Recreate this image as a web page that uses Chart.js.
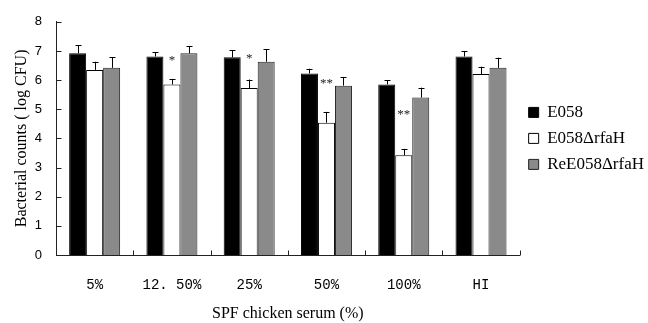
<!DOCTYPE html>
<html>
<head>
<meta charset="utf-8">
<script src="https://cdn.jsdelivr.net/npm/chart.js@4/dist/chart.umd.min.js"></script>
<style>
  html, body { margin: 0; padding: 0; background: #fff; }
  #wrap { width: 648px; height: 323px; }
</style>
</head>
<body>
<div id="wrap"><canvas id="chart"></canvas></div>
<script>
// serum concentrations on the x axis
var categories = ['5%', '12. 50%', '25%', '50%', '100%', 'HI'];

// mean log CFU and upper error (SD) per strain
var e058       = [6.92, 6.81, 6.78, 6.23, 5.85, 6.81];
var e058Err    = [0.27, 0.14, 0.25, 0.16, 0.14, 0.19];
var mutant     = [6.35, 5.85, 5.73, 4.54, 3.42, 6.21];
var mutantErr  = [0.28, 0.19, 0.29, 0.37, 0.22, 0.25];
var rescue     = [6.42, 6.92, 6.63, 5.81, 5.40, 6.42];
var rescueErr  = [0.36, 0.24, 0.43, 0.30, 0.34, 0.35];

// significance marks over the mutant bars, and the level they sit at
var sigMarks = ['', '*', '*', '**', '**', ''];
var sigLevel = [null, 6.55, 6.62, 5.78, 4.72, null];

var yTicks = [0, 1, 2, 3, 4, 5, 6, 7, 8];

var serif = "'Liberation Serif', 'Times New Roman', serif";

// error bars (upward only), inward tick marks and the star labels
var extras = {
  id: 'extras',
  afterDatasetsDraw: function(chart) {
    var ctx = chart.ctx;
    var y = chart.scales.y;
    var errs = [e058Err, mutantErr, rescueErr];
    ctx.save();
    ctx.strokeStyle = '#000';
    ctx.lineWidth = 1;
    chart.data.datasets.forEach(function(ds, di) {
      chart.getDatasetMeta(di).data.forEach(function(bar, i) {
        var x = Math.round(bar.x) + 0.5;
        var yTop = y.getPixelForValue(ds.data[i] + errs[di][i]);
        ctx.beginPath();
        ctx.moveTo(x, bar.y);
        ctx.lineTo(x, yTop);
        ctx.moveTo(x - 3, Math.round(yTop) + 0.5);
        ctx.lineTo(x + 3, Math.round(yTop) + 0.5);
        ctx.stroke();
      });
    });

    // stars
    var meta = chart.getDatasetMeta(1);
    ctx.fillStyle = '#222';
    ctx.font = "13px " + serif;
    ctx.textAlign = 'center';
    ctx.textBaseline = 'middle';
    sigMarks.forEach(function(m, i) {
      if (!m) return;
      ctx.fillText(m, meta.data[i].x, y.getPixelForValue(sigLevel[i]) - 3);
    });
    ctx.restore();
  },
  afterDraw: function(chart) {
    var ctx = chart.ctx;
    var x = chart.scales.x, y = chart.scales.y;
    var left = Math.round(chart.chartArea.left) + 0.5;
    var bottom = Math.round(chart.chartArea.bottom) + 0.5;
    ctx.save();
    ctx.strokeStyle = '#222';
    ctx.lineWidth = 1;
    ctx.beginPath();
    yTicks.forEach(function(v) {
      var py = Math.round(y.getPixelForValue(v)) + 0.5;
      ctx.moveTo(left, py);
      ctx.lineTo(left + 5, py);
    });
    for (var i = 0; i <= categories.length; i++) {
      var px = Math.round(x.getPixelForValue(i - 0.5)) + 0.5;
      ctx.moveTo(px, bottom);
      ctx.lineTo(px, bottom - 5);
    }
    ctx.stroke();
    ctx.restore();
  }
};

new Chart(document.getElementById('chart'), {
  type: 'bar',
  data: {
    labels: categories,
    datasets: [{
      label: 'E058',
      data: e058,
      backgroundColor: '#000000',
      borderColor: '#000000',
      borderWidth: 1
    }, {
      label: 'E058\u0394rfaH',
      data: mutant,
      backgroundColor: '#ffffff',
      borderColor: '#000000',
      borderWidth: 1
    }, {
      label: 'ReE058\u0394rfaH',
      data: rescue,
      backgroundColor: '#8a8a8a',
      borderColor: '#222222',
      borderWidth: 1
    }]
  },
  plugins: [extras],
  options: {
    responsive: true,
    maintainAspectRatio: false,
    animation: false,
    devicePixelRatio: 1,
    // top: the y labels add their half height on top of this
    layout: { padding: { top: 9, left: 0, right: -6, bottom: 0 } },
    datasets: {
      bar: { categoryPercentage: 0.66, barPercentage: 1.0, borderSkipped: 'start' }
    },
    plugins: {
      tooltip: { enabled: false },
      legend: {
        position: 'right',
        fullSize: false,
        labels: {
          color: '#000',
          font: { family: serif, size: 17 },
          boxWidth: 10,
          boxHeight: 10,
          padding: 9
        }
      }
    },
    scales: {
      x: {
        grid: { display: false, drawTicks: false },
        border: { display: true, color: '#222', width: 1 },
        ticks: {
          color: '#000',
          font: { family: "'Liberation Mono', monospace", size: 14 },
          padding: 22,
          maxRotation: 0
        },
        title: {
          display: true,
          text: 'SPF chicken serum (%)',
          color: '#000',
          font: { family: serif, size: 16 },
          padding: { top: 4, bottom: 0 }
        },
        afterFit: function(s) { s.height = 68; }
      },
      y: {
        min: 0,
        max: 8,
        grid: { display: false, drawTicks: false },
        border: { display: true, color: '#222', width: 1 },
        afterBuildTicks: function(s) {
          s.ticks = yTicks.map(function(v) { return { value: v }; });
        },
        ticks: {
          color: '#000',
          font: { family: "'Liberation Sans', sans-serif", size: 13 },
          padding: 14
        },
        title: {
          display: true,
          text: 'Bacterial counts ( log CFU)',
          color: '#000',
          font: { family: serif, size: 16 },
          padding: { top: 12, bottom: 0 }
        },
        afterFit: function(s) { s.width = 56; }
      }
    }
  }
});
</script>
</body>
</html>
